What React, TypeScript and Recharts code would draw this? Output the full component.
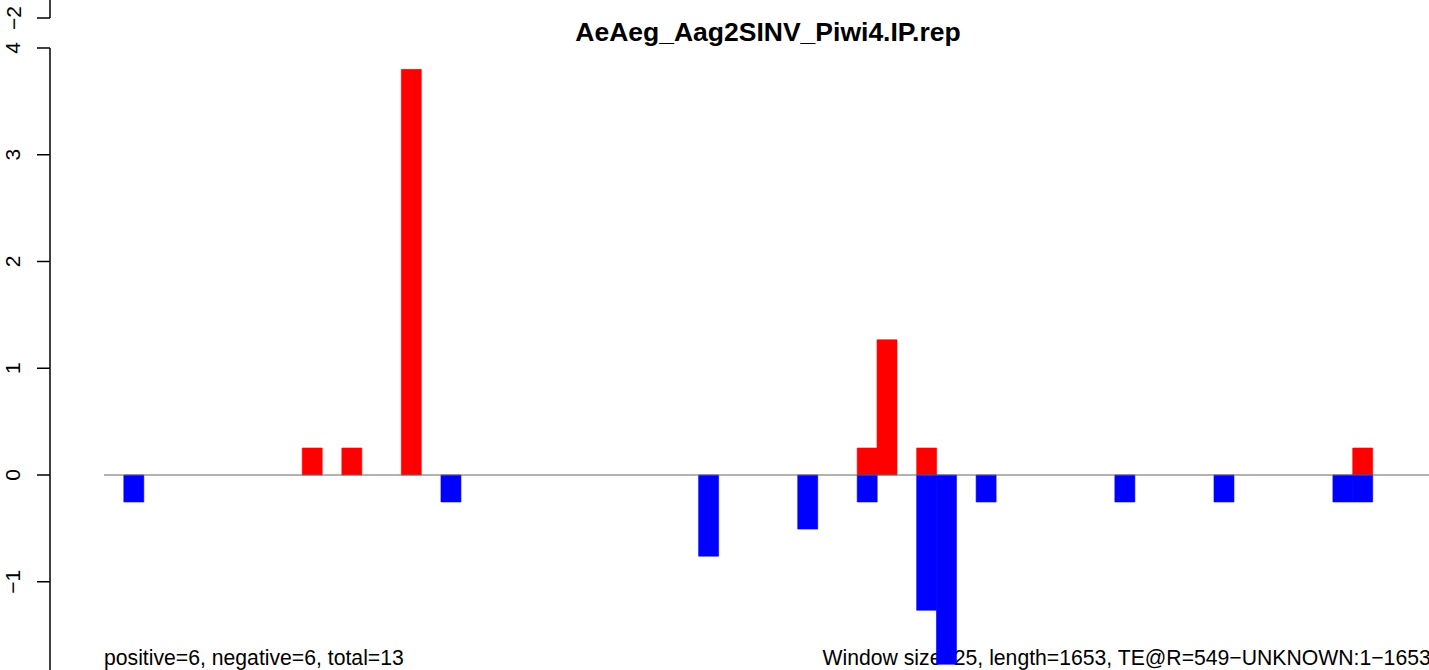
import React from "react";
import { ComposedChart, Bar, XAxis, YAxis, ReferenceLine, Customized } from "recharts";

// Per-window signal (window size 25 over length 1653 -> 67 windows)
const plusValues: number[] = [
  0, 0, 0, 0, 0, 0, 0, 0, 0, 0,
  0.253, 0, 0.253, 0, 0, 3.8, 0, 0, 0, 0,
  0, 0, 0, 0, 0, 0, 0, 0, 0, 0,
  0, 0, 0, 0, 0, 0, 0, 0, 0.253, 1.267,
  0, 0.253, 0, 0, 0, 0, 0, 0, 0, 0,
  0, 0, 0, 0, 0, 0, 0, 0, 0, 0,
  0, 0, 0, 0.253, 0, 0, 0,
];
const minusValues: number[] = [
  0, -0.253, 0, 0, 0, 0, 0, 0, 0, 0,
  0, 0, 0, 0, 0, 0, 0, -0.253, 0, 0,
  0, 0, 0, 0, 0, 0, 0, 0, 0, 0,
  -0.76, 0, 0, 0, 0, -0.507, 0, 0, -0.253, 0,
  0, -1.267, -1.773, 0, -0.253, 0, 0, 0, 0, 0,
  0, -0.253, 0, 0, 0, 0, -0.253, 0, 0, 0,
  0, 0, -0.253, -0.253, 0, 0, 0,
];

const yTicks: number[] = [-1, 0, 1, 2, 3, 4];
// leftover tick of the panel above (labelled -2), sits above the 4 tick
const strayTickValue = 4.281;
const strayTickLabel = "\u22122";

const titleText = "AeAeg_Aag2SINV_Piwi4.IP.rep";
const footLeft = "positive=6, negative=6, total=13";
const footRight = "Window size=25, length=1653, TE@R=549\u2212UNKNOWN:1\u22121653";

const data = plusValues.map((p, i) => ({ bin: i, plus: p, minus: minusValues[i] }));

const FONT = "'Liberation Sans', Arial, Helvetica, sans-serif";
const AXIS_X = 50;
const TICK_LEN = 13;
const CHART_W = 1432;
const CHART_H = 670;

const fmt = (v: number) => (v === strayTickValue ? strayTickLabel : v < 0 ? "\u2212" + Math.abs(v) : String(v));

function YTick(props: any) {
  const { y, payload } = props;
  const v = payload.value;
  return (
    <g>
      <line x1={AXIS_X - TICK_LEN} y1={y} x2={AXIS_X} y2={y} stroke="#000" strokeWidth={1.5} />
      {v === strayTickValue && <line x1={AXIS_X} y1={-2} x2={AXIS_X} y2={y} stroke="#000" strokeWidth={1.5} />}
      {v === 4 && <line x1={AXIS_X} y1={y} x2={AXIS_X} y2={CHART_H + 20} stroke="#000" strokeWidth={1.5} />}
      <text
        x={20.5}
        y={y}
        transform={`rotate(-90, 20.5, ${y})`}
        textAnchor="middle"
        fontFamily={FONT}
        fontSize={21}
        fill="#000"
      >
        {fmt(v)}
      </text>
    </g>
  );
}

function Texts() {
  return (
    <g>
      <text x={768} y={41} textAnchor="middle" fontFamily={FONT} fontWeight="bold" fontSize={26.5} fill="#000">
        {titleText}
      </text>
      <text x={104} y={665} textAnchor="start" fontFamily={FONT} fontSize={21.2} fill="#000">
        {footLeft}
      </text>
      <text x={822.5} y={665} textAnchor="start" fontFamily={FONT} fontSize={21.2} fill="#000">
        {footRight}
      </text>
    </g>
  );
}

export default function App() {
  return (
    <div style={{ position: "absolute", left: 0, top: 0, width: 1429, height: 670, overflow: "hidden", background: "#fff" }}>
      <ComposedChart
        width={CHART_W}
        height={CHART_H}
        data={data}
        margin={{ top: 0, right: 0, bottom: 0, left: 0 }}
        stackOffset="sign"
        barCategoryGap={0}
        barGap={0}
      >
        <XAxis dataKey="bin" hide />
        <YAxis
          width={104}
          type="number"
          domain={[-1.8267, 4.4496]}
          allowDataOverflow
          ticks={[...yTicks, strayTickValue]}
          interval={0}
          axisLine={false}
          tickLine={false}
          tick={<YTick />}
        />
        <ReferenceLine y={0} stroke="#666" strokeWidth={1.2} />
        <Bar dataKey="plus" stackId="s" fill="#FF0000" stroke="#FF0000" strokeWidth={0.6} isAnimationActive={false} />
        <Bar dataKey="minus" stackId="s" fill="#0000FF" stroke="#0000FF" strokeWidth={0.6} isAnimationActive={false} />
        <Customized component={Texts} />
      </ComposedChart>
    </div>
  );
}
